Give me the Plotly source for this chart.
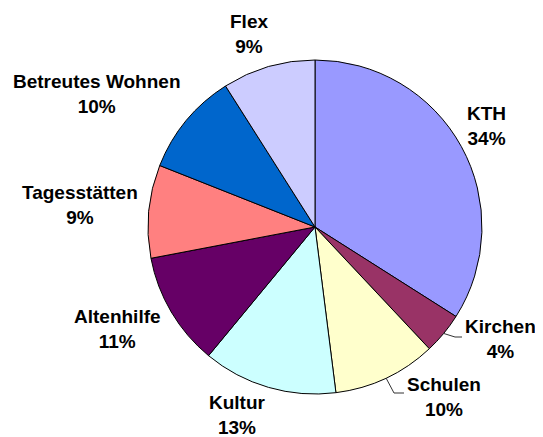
import math
import plotly.graph_objects as go

categories = ["KTH", "Kirchen", "Schulen", "Kultur", "Altenhilfe", "Tagesstätten", "Betreutes Wohnen", "Flex"]
values = [34, 4, 10, 13, 11, 9, 10, 9]
colors = ["#9999FF", "#993366", "#FFFFCC", "#CCFFFF", "#660066", "#FF8080", "#0066CC", "#CCCCFF"]

W, H = 543, 437
OFF = 8  # page body margin: figure is drawn at (8, 8) in the window
CX, CY, R = 315 - OFF, 227 - OFF, 167  # pie centre / radius in figure pixels

# label block centres (window pixels from top-left)
label_pos = {
    "KTH": (486.5, 126),
    "Kirchen": (500, 339),
    "Schulen": (444, 396.5),
    "Kultur": (237, 415),
    "Altenhilfe": (117.5, 329),
    "Tagesstätten": (80, 205),
    "Betreutes Wohnen": (97, 94),
    "Flex": (249, 34.5),
}
# leader lines (elbow + end, window pixels)
leaders = {
    "Kirchen": [(455, 337), (462, 337)],
    "Schulen": [(394, 393), (404, 393)],
}

def px(x, y):
    """figure pixels -> paper coords"""
    return x / W, 1 - y / H

def wpx(x, y):
    """window pixels -> paper coords"""
    return px(x - OFF, y - OFF)

fig = go.Figure(go.Pie(
    labels=categories,
    values=values,
    sort=False,
    direction="clockwise",
    rotation=0,
    marker=dict(colors=colors, line=dict(color="black", width=1)),
    textinfo="none",
    hoverinfo="label+percent",
    domain=dict(x=[(CX - R) / W, (CX + R) / W], y=[(H - CY - R) / H, (H - CY + R) / H]),
    showlegend=False,
))

total = sum(values)
pct = [round(v / total * 100) for v in values]
annotations = []
for cat, p in zip(categories, pct):
    xp, yp = wpx(*label_pos[cat])
    annotations.append(dict(
        x=xp, y=yp, xref="paper", yref="paper",
        text=f"<b>{cat}</b><br><b>{p}%</b>",
        showarrow=False, xanchor="center", yanchor="middle",
        font=dict(family="Arial, Liberation Sans, sans-serif", size=19, color="black"),
    ))

shapes = []
cum = 0
for cat, v in zip(categories, values):
    mid = (cum + v / 2) / total * 2 * math.pi
    cum += v
    if cat in leaders:
        sx = CX + R * math.sin(mid)
        sy = CY - R * math.cos(mid)
        pts = [px(sx, sy)] + [wpx(a, b) for a, b in leaders[cat]]
        path = "M " + " L ".join(f"{a},{b}" for a, b in pts)
        shapes.append(dict(type="path", path=path, xref="paper", yref="paper",
                           line=dict(color="#333333", width=1)))

fig.update_layout(
    width=W, height=H,
    margin=dict(l=0, r=0, t=0, b=0),
    paper_bgcolor="white", plot_bgcolor="white",
    annotations=annotations, shapes=shapes,
)
fig.write_html("out.html")
